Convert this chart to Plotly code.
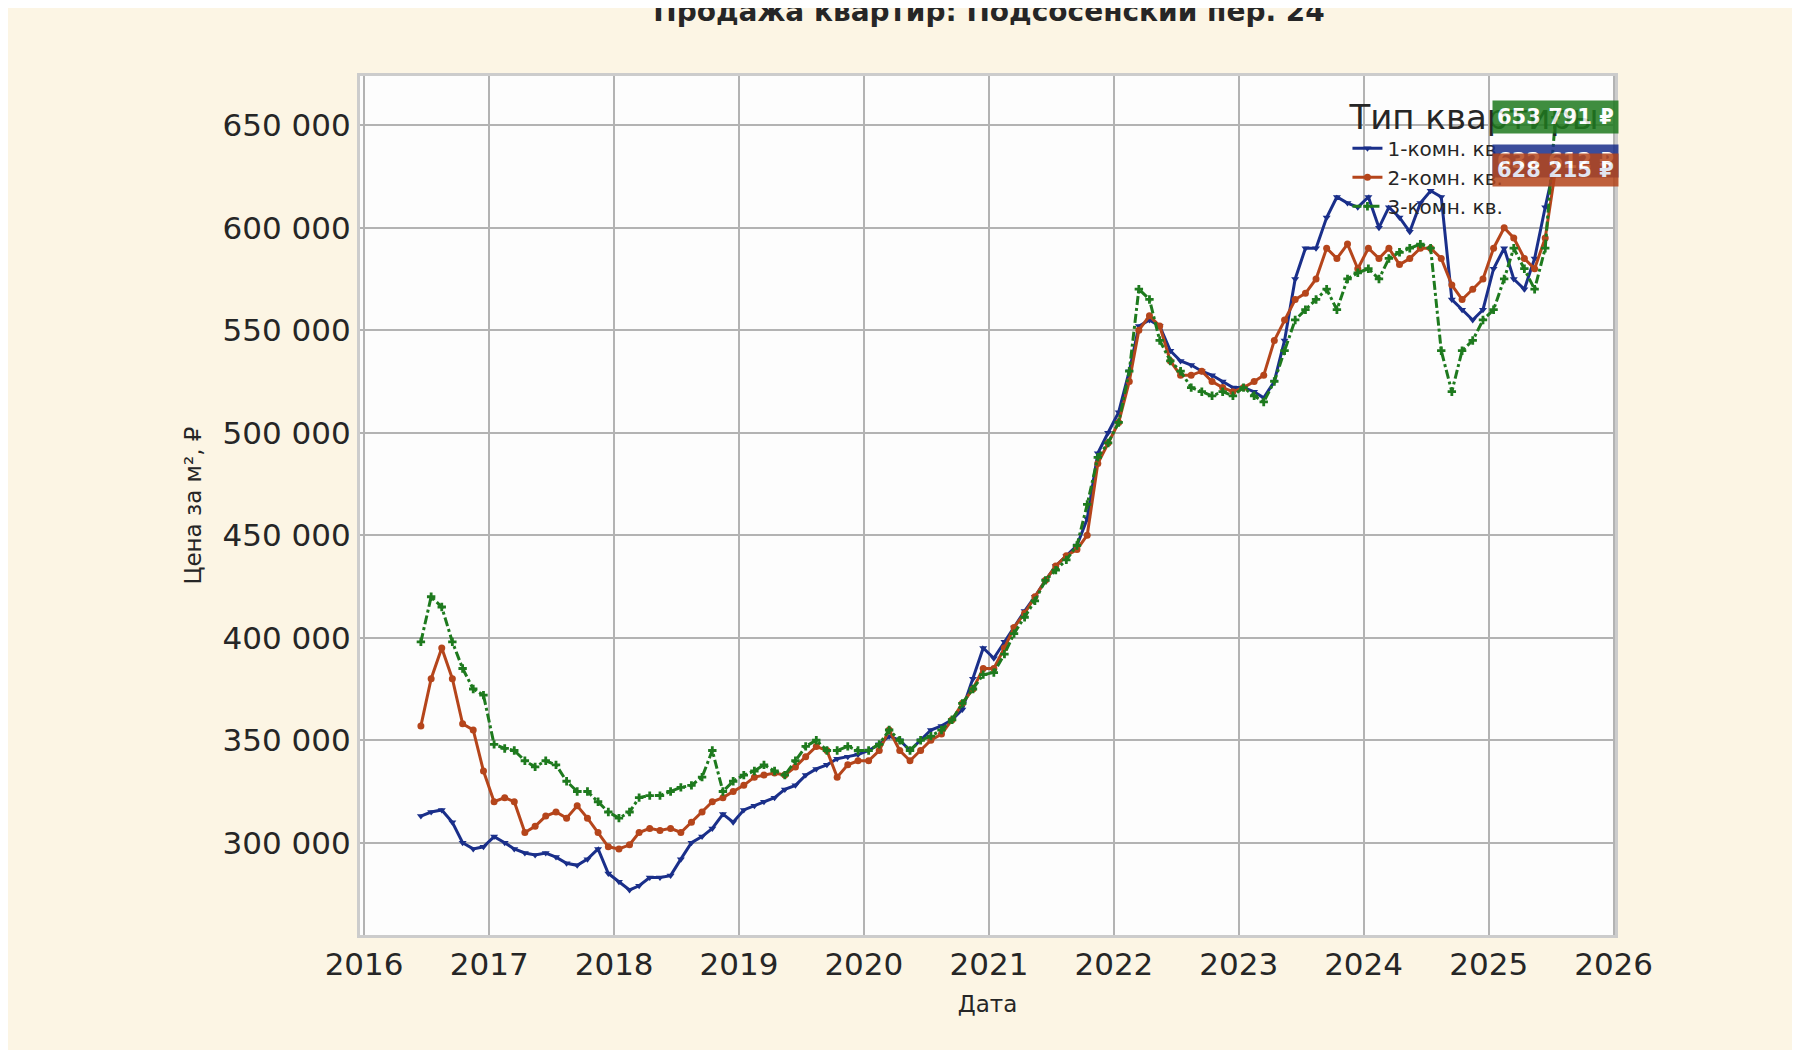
import plotly.graph_objects as go
import pandas as pd

dates = pd.date_range("2016-06-01", periods=110, freq="MS") + pd.Timedelta(days=14)

room1 = [313,315,316,310,300,297,298,
303,300,297,295,294,295,293,290,289,292,297,285,
281,277,279,283,283,284,292,300,303,307,314,310,
316,318,320,322,326,328,333,336,338,341,342,343,
345,348,352,350,345,350,355,357,360,365,380,395,
390,398,405,413,420,428,435,440,445,458,490,500,
510,530,552,555,552,540,535,533,530,528,525,522,
522,520,517,525,545,575,590,590,605,615,612,610,
615,600,610,605,598,612,618,615,565,560,555,560,
580,590,575,570,585,610,632.6]
room2 = [357,380,395,380,358,355,335,
320,322,320,305,308,313,315,312,318,312,305,298,
297,299,305,307,306,307,305,310,315,320,322,325,
328,332,333,334,333,337,342,347,345,332,338,340,
340,345,355,345,340,345,350,353,360,368,375,385,
385,395,405,412,420,428,435,440,443,450,485,495,
505,525,550,557,552,535,528,528,530,525,522,520,
522,525,528,545,555,565,568,575,590,585,592,580,
590,585,590,582,585,590,590,585,572,565,570,575,
590,600,595,585,580,595,628.215]
room3 = [398,420,415,398,385,375,372,
348,346,345,340,337,340,338,330,325,325,320,315,
312,315,322,323,323,325,327,328,332,345,325,330,
333,335,338,335,333,340,347,350,345,345,347,345,
345,348,355,350,345,350,352,355,360,368,375,382,
383,392,402,410,418,428,433,438,445,465,488,495,
505,530,570,565,545,535,530,522,520,518,520,518,
522,518,515,525,540,555,560,565,570,560,575,578,
580,575,585,588,590,592,590,540,520,540,545,555,
560,575,590,580,570,590,653.791]

names = ["1-комн. кв.", "2-комн. кв.", "3-комн. кв."]
colors = ["#1a2f8a", "#b5451b", "#1e7a1e"]
symbols = ["triangle-down", "circle", "cross"]
dashes = ["solid", "solid", "dashdot"]
labels = ["632 612 ₽", "628 215 ₽", "653 791 ₽"]
series = [room1, room2, room3]

fig = go.Figure()
for s, n, c, sy, d in zip(series, names, colors, symbols, dashes):
    fig.add_trace(go.Scatter(x=dates, y=[v*1000 for v in s], name=n, mode="lines+markers",
                             line=dict(color=c, width=3, dash=d),
                             marker=dict(symbol=sy, size=7, color=c)))

order = [0, 2, 1]
for i in order:
    fig.add_annotation(x=dates[-1], y=series[i][-1]*1000, text="<b>"+labels[i]+"</b>",
                       showarrow=False, xanchor="center",
                       font=dict(color="white", size=21, family="DejaVu Sans"),
                       bgcolor=colors[i], opacity=0.85, borderpad=4)

ytv = [300000, 350000, 400000, 450000, 500000, 550000, 600000, 650000]
ytt = [f"{v:,}".replace(",", " ") for v in ytv]

fig.update_layout(
    width=1800, height=1050,
    paper_bgcolor="#fcf5e4", plot_bgcolor="#fdfdfd",
    margin=dict(l=352, r=193, t=68, b=123),
    font=dict(family="DejaVu Sans", color="#262626"),
    title=dict(text="<b>Продажа квартир: Подсосенский пер. 24</b>", x=0.545, xanchor="center",
               y=0.997, yanchor="middle", font=dict(size=28)),
    legend=dict(title=dict(text="Тип квартиры", font=dict(size=34)), x=0.99, y=0.99,
                xanchor="right", yanchor="top", bgcolor="rgba(0,0,0,0)", font=dict(size=20)),
    xaxis=dict(range=["2015-12-20", "2026-01-05"], showgrid=True, gridcolor="#b3b3b3", gridwidth=2,
               tickvals=[f"{y}-01-01" for y in range(2016, 2027)], ticktext=[str(y) for y in range(2016, 2027)],
               tickfont=dict(size=31), title=dict(text="Дата", font=dict(size=23)),
               showline=True, linecolor="#cccccc", linewidth=3, mirror=True, zeroline=False),
    yaxis=dict(range=[255000, 674000], showgrid=True, gridcolor="#b3b3b3", gridwidth=2,
               tickvals=ytv, ticktext=ytt, tickfont=dict(size=31),
               title=dict(text="Цена за м², ₽", font=dict(size=23)),
               showline=True, linecolor="#cccccc", linewidth=3, mirror=True, zeroline=False),
)
fig.write_html("out.html")
